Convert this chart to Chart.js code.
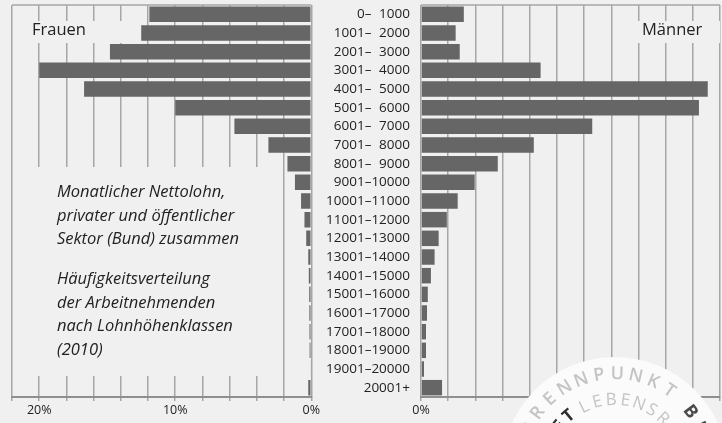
<!DOCTYPE html>
<html>
<head>
<meta charset="utf-8">
<script src="https://cdn.jsdelivr.net/npm/chart.js@4.4.0/dist/chart.umd.min.js"></script>
<style>
  body { margin: 0; background: #f0f0f0; }
  #wrap { position: relative; width: 722px; height: 423px; background: #f0f0f0; overflow: hidden; }
  canvas { position: absolute; top: 0; }
</style>
</head>
<body>
<div id="wrap">
  <canvas id="frauen" width="322" height="423" style="left:0"></canvas>
  <canvas id="maenner" width="422" height="423" style="left:300px"></canvas>
</div>
<script>
// Lohnklassen (CHF pro Monat), von oben nach unten
const classes = [
  "0–\u20071000", "1001–\u20072000", "2001–\u20073000", "3001–\u20074000",
  "4001–\u20075000", "5001–\u20076000", "6001–\u20077000", "7001–\u20078000",
  "8001–\u20079000", "9001–10000", "10001–11000", "11001–12000",
  "12001–13000", "13001–14000", "14001–15000", "15001–16000",
  "16001–17000", "17001–18000", "18001–19000", "19001–20000", "20001+",
];

// Anteil in %
const frauen = [11.9, 12.5, 14.8, 20.0, 16.7, 10.0, 5.65, 3.15, 1.75, 1.2, 0.75,
  0.5, 0.37, 0.22, 0.18, 0.15, 0.14, 0.13, 0.12, 0.05, 0.22];
const maenner = [3.15, 2.55, 2.85, 8.8, 21.1, 20.45, 12.6, 8.3, 5.65, 3.95, 2.7,
  1.9, 1.3, 1.0, 0.73, 0.5, 0.44, 0.37, 0.37, 0.22, 1.55];

// beschriftete Ticks auf der x-Achse
const xLabels = [0, 10, 20];
const xMax = 22;

const BG = "#f0f0f0";
const GRID = "#a6a6a6";
const BAR = "#666666";
const TEXT = "#222222";
const FONT = '"Open Sans", "Noto Sans", sans-serif';

// gemeinsame x-Achse (Prozent)
function percentAxis(reverse) {
  return {
    reverse: reverse,
    min: 0,
    max: xMax,
    afterFit: (s) => { s.height = 26; },
    grid: { color: GRID, lineWidth: 1.5, tickLength: 4, tickColor: GRID },
    border: { color: "#8f8f8f", width: 2 },
    ticks: {
      stepSize: 2,
      autoSkip: false,
      maxRotation: 0,
      padding: 2,
      color: TEXT,
      font: { family: FONT, size: 12.5 },
      callback: (v) => (xLabels.includes(v) ? v + "%" : ""),
    },
  };
}

// obere Rahmenlinie + Textflächen, die das Gitter überdecken
function panelPlugin(masks, drawText) {
  return {
    id: "panel",
    beforeDatasetsDraw(chart) {
      const { ctx, chartArea: a } = chart;
      ctx.save();
      ctx.strokeStyle = GRID;
      ctx.lineWidth = 1.5;
      ctx.beginPath();
      ctx.moveTo(a.left, a.top);
      ctx.lineTo(a.right, a.top);
      ctx.stroke();
      ctx.fillStyle = BG;
      masks.forEach((m) => ctx.fillRect(m[0], m[1], m[2], m[3]));
      ctx.restore();
    },
    afterDatasetsDraw(chart) {
      chart.ctx.save();
      drawText(chart.ctx);
      chart.ctx.restore();
    },
  };
}

function barDataset(values) {
  return {
    data: values,
    backgroundColor: BAR,
    barPercentage: 0.83,
    categoryPercentage: 1,
  };
}

const common = {
  indexAxis: "y",
  responsive: false,
  animation: false,
  plugins: { legend: { display: false }, tooltip: { enabled: false } },
};

// Frauen (links, gespiegelt)
new Chart(document.getElementById("frauen"), {
  type: "bar",
  data: { labels: classes, datasets: [barDataset(frauen)] },
  options: {
    ...common,
    layout: { padding: { left: 12, right: 10, top: 5, bottom: 0 } },
    scales: {
      x: percentAxis(true),
      y: { display: false },
    },
  },
  plugins: [
    panelPlugin(
      [[13, 21, 117, 22], [13, 167, 257, 209]],
      (ctx) => {
        ctx.fillStyle = TEXT;
        ctx.font = "16.5px " + FONT;
        ctx.textBaseline = "alphabetic";
        ctx.fillText("Frauen", 32, 35);
        ctx.font = "italic 16.5px " + FONT;
        const lines = [
          ["Monatlicher Nettolohn,", 197],
          ["privater und öffentlicher", 220.5],
          ["Sektor (Bund) zusammen", 244],
          ["Häufigkeitsverteilung", 284],
          ["der Arbeitnehmenden", 307.5],
          ["nach Lohnhöhenklassen", 331],
          ["(2010)", 354.5],
        ];
        lines.forEach(([t, y]) => ctx.fillText(t, 57, y));
      }
    ),
  ],
});

// Stempel unten rechts
function arcText(ctx, cx, cy, r, text, start, step, color, font) {
  ctx.fillStyle = color;
  ctx.font = font;
  ctx.textAlign = "center";
  ctx.textBaseline = "middle";
  [...text].forEach((ch, i) => {
    const a = ((start + i * step) * Math.PI) / 180;
    ctx.save();
    ctx.translate(cx + r * Math.cos(a), cy + r * Math.sin(a));
    ctx.rotate(a + Math.PI / 2);
    ctx.fillText(ch, 0, 0);
    ctx.restore();
  });
}

const stamp = {
  id: "stamp",
  afterDraw(chart) {
    const ctx = chart.ctx;
    const cx = 315, cy = 470;
    ctx.save();
    ctx.fillStyle = "#fbfbfb";
    ctx.beginPath();
    ctx.arc(cx, cy, 113, 0, Math.PI * 2);
    ctx.fill();
    arcText(ctx, cx, cy, 96, "BRENNPUNKT", -154.6, 11.0, "#c4c4c4", "600 18px " + FONT);
    arcText(ctx, cx, cy, 95, "BE", -37.7, 11.0, "#4a4a4a", "700 18px " + FONT);
    arcText(ctx, cx, cy, 70, "LEBENSR", -116, 11.5, "#c4c4c4", "500 17px " + FONT);
    arcText(ctx, cx, cy, 71, "ET", -142, 11.5, "#2e2e2e", "700 17px " + FONT);
    ctx.restore();
  },
};

// Männer (rechts) mit Klassenbeschriftung
new Chart(document.getElementById("maenner"), {
  type: "bar",
  data: { labels: classes, datasets: [barDataset(maenner)] },
  options: {
    ...common,
    layout: { padding: { left: 0, right: 1, top: 5, bottom: 0 } },
    scales: {
      x: percentAxis(false),
      y: {
        afterFit: (s) => {
          s.width = 121;
          s.paddingTop = 0;
          s.paddingBottom = 0;
        },
        grid: { display: false, drawTicks: false },
        border: { display: false },
        ticks: {
          autoSkip: false,
          padding: 11,
          color: TEXT,
          font: { family: FONT, size: 13.5 },
        },
      },
    },
  },
  plugins: [
    panelPlugin(
      [[325, 21, 95, 22]],
      (ctx) => {
        ctx.fillStyle = TEXT;
        ctx.font = "16.5px " + FONT;
        ctx.textBaseline = "alphabetic";
        ctx.fillText("Männer", 342, 35);
      }
    ),
    stamp,
  ],
});
</script>
</body>
</html>
